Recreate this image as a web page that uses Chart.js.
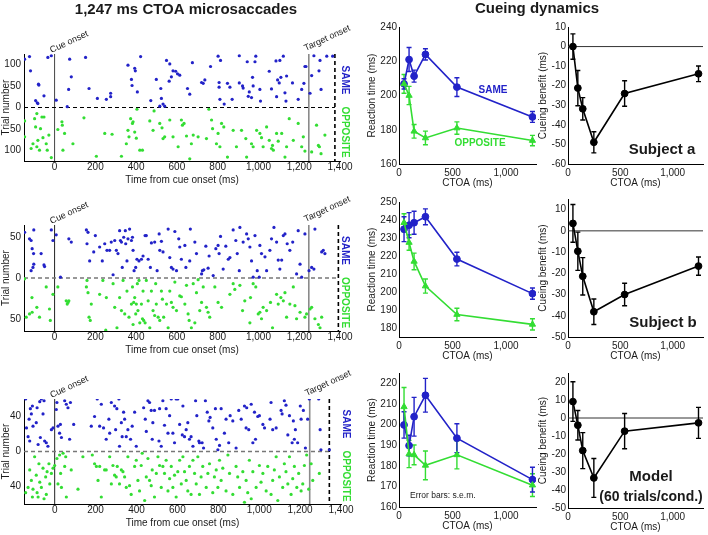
<!DOCTYPE html>
<html><head><meta charset="utf-8">
<script src="https://cdn.jsdelivr.net/npm/chart.js@4.4.1/dist/chart.umd.min.js"></script>
<style>
html,body{margin:0;padding:0;background:#fff;}
#wrap{position:relative;width:708px;height:535px;overflow:hidden;background:#fff;}
canvas{position:absolute;left:0;top:0;}
</style></head>
<body><div id="wrap">
<canvas id="r1" width="708" height="535"></canvas>
<canvas id="r2" width="708" height="535"></canvas>
<canvas id="r3" width="708" height="535"></canvas>
<canvas id="t1" width="708" height="535"></canvas>
<canvas id="t2" width="708" height="535"></canvas>
<canvas id="t3" width="708" height="535"></canvas>
<canvas id="b1" width="708" height="535"></canvas>
<canvas id="b2" width="708" height="535"></canvas>
<canvas id="b3" width="708" height="535"></canvas>
</div>
<script>
// ---------------- DATA ----------------
const ctoa = [47, 94, 141, 247, 541, 1247];

const rtSameA = [206.8, 221, 211.3, 224, 204.9, 187.5];
const errSameA = [3, 7, 3.5, 3.3, 5.5, 3.2];
const rtOppA = [206.8, 200, 179.1, 175.2, 181, 173.7];
const errOppA = [5.5, 5.3, 4, 4, 3.6, 3];
const benA = [0, -21.2, -31.8, -48.9, -24, -13.9];
const errBenA = [6.5, 9, 5.7, 5.4, 6.5, 4];

const rtSameB = [234.9, 237.1, 238.5, 241.8, 218.3, 199.1];
const errSameB = [6.9, 7, 6.4, 4.4, 3.8, 3.1];
const rtOppB = [238.5, 227.5, 217, 203.3, 187.5, 182];
const errOppB = [5, 4.3, 4.6, 3.9, 3.5, 3.1];
const benB = [3.5, -9.6, -21.4, -38.1, -30, -16.6];
const errBenB = [8.9, 9, 8.8, 6, 5.3, 4.3];

const rtSameM = [199.8, 189.8, 203.8, 214.2, 193.4, 173.3];
const errSameM = [6.4, 5, 9.4, 8.2, 7, 6];
const rtOppM = [208.6, 185.7, 185.3, 180.2, 185.3, 170.6];
const errOppM = [9.4, 6.6, 4.8, 7, 6.8, 5.5];
const benM = [9.1, -4, -18.1, -33.3, -7.3, -2.7];
const errBenM = [11, 8.2, 10, 10.8, 9.8, 8.6];

// raster: [time from cue onset (ms), trial number]
const sameA = [[-147,112],[-123,118],[-118,85],[-93,16],[-85,11],[-79,54],[-77,52],[-82,9],[-52,27],[-33,116],[-16,120],[8,17],[62,2],[69,42],[74,112],[82,71],[152,116],[169,44],[210,21],[254,19],[275,33],[275,25],[360,98],[377,65],[380,51],[393,91],[396,85],[406,36],[422,118],[472,16],[499,65],[521,44],[524,21],[516,3],[532,8],[540,3],[549,109],[565,101],[562,61],[573,71],[581,85],[594,84],[603,78],[614,75],[652,44],[663,31],[676,104],[721,58],[729,56],[737,64],[765,95],[802,119],[807,58],[807,47],[814,109],[811,19],[832,8],[848,56],[860,47],[871,19],[906,120],[906,57],[922,50],[925,45],[945,106],[950,26],[955,36],[966,23],[971,70],[974,50],[983,106],[987,119],[1007,42],[1010,15],[1053,84],[1064,43],[1086,108],[1089,25],[1094,64],[1102,57],[1105,109],[1110,70],[1122,119],[1130,34],[1135,15],[1138,73],[1167,57],[1195,19],[1212,42],[1223,56],[1228,95],[1233,95],[1253,33],[1261,74],[1272,120],[1297,85],[1302,109],[1307,42],[1335,119],[1364,119]];
const oppA = [[-147,31],[-147,68],[-115,95],[-106,84],[-98,26],[-93,45],[-87,91],[-87,14],[-82,76],[-74,99],[-69,49],[-62,22],[-57,70],[-52,22],[-41,84],[-36,99],[-28,64],[-16,116],[16,51],[36,33],[38,41],[49,60],[41,99],[90,84],[144,24],[205,113],[246,60],[282,62],[328,113],[352,84],[360,53],[365,68],[373,26],[382,37],[385,33],[393,57],[401,71],[404,4],[418,99],[431,99],[467,31],[483,53],[488,8],[516,37],[527,47],[532,72],[540,68],[565,29],[581,68],[606,91],[622,29],[627,41],[635,37],[647,66],[663,119],[671,84],[680,64],[704,68],[745,72],[757,4],[770,29],[775,49],[794,84],[802,60],[811,91],[819,37],[830,45],[848,115],[876,53],[892,91],[917,53],[938,72],[942,115],[966,84],[974,91],[991,53],[1007,60],[1015,70],[1023,91],[1040,45],[1053,76],[1064,95],[1069,88],[1073,99],[1089,60],[1097,78],[1114,60],[1130,115],[1138,91],[1151,26],[1171,76],[1195,37],[1212,91],[1220,68],[1228,101],[1261,103],[1285,41],[1294,88],[1299,91],[1307,107],[1326,64]];

const sameB = [[-147,56],[-123,48],[-115,46],[-110,36],[-115,9],[-106,13],[-102,17],[-103,30],[-102,59],[-66,30],[-52,16],[-49,14],[-16,59],[-8,46],[8,53],[29,1],[82,44],[70,48],[156,59],[159,42],[164,56],[172,21],[192,32],[200,52],[221,38],[234,21],[246,42],[257,34],[270,34],[278,44],[287,4],[295,46],[303,34],[311,30],[319,58],[323,46],[328,44],[332,13],[339,50],[347,58],[349,42],[355,21],[360,48],[368,60],[377,46],[382,50],[385,34],[390,9],[398,13],[404,23],[414,21],[426,23],[434,27],[444,52],[450,52],[459,23],[470,13],[475,43],[491,44],[503,9],[513,54],[516,34],[524,45],[532,32],[557,60],[565,25],[573,13],[581,11],[590,57],[598,9],[609,48],[614,38],[622,23],[639,40],[644,13],[663,21],[666,60],[688,44],[696,30],[721,5],[725,9],[732,10],[742,39],[753,12],[758,27],[778,3],[791,36],[802,40],[807,30],[814,51],[827,11],[840,39],[852,23],[860,25],[876,59],[889,46],[896,30],[906,9],[909,62],[925,44],[942,54],[950,48],[958,38],[966,21],[974,1],[983,52],[994,9],[1004,1],[1007,40],[1015,30],[1032,26],[1040,9],[1056,34],[1064,48],[1076,62],[1089,44],[1097,22],[1105,11],[1114,22],[1122,52],[1130,54],[1141,42],[1154,34],[1168,44],[1187,5],[1195,58],[1204,17],[1212,1],[1228,54],[1248,9],[1261,13],[1272,11],[1277,60],[1310,32],[1318,34],[1326,30]];
const oppB = [[-147,1],[-139,48],[-123,44],[-111,24],[-110,42],[-87,36],[-74,48],[-41,11],[-25,38],[-21,52],[-8,20],[16,11],[57,28],[62,32],[66,30],[70,28],[156,11],[159,3],[164,18],[169,48],[175,52],[180,32],[221,20],[237,3],[251,64],[254,24],[287,7],[295,36],[306,61],[319,24],[328,40],[336,3],[344,44],[355,16],[365,48],[377,32],[382,11],[385,57],[388,30],[393,24],[398,44],[401,32],[406,7],[409,40],[414,3],[418,55],[426,32],[431,50],[434,16],[437,52],[444,55],[450,3],[459,28],[467,61],[475,16],[483,40],[491,46],[496,7],[499,32],[508,48],[516,52],[524,16],[529,26],[535,48],[549,32],[557,61],[565,16],[573,30],[581,36],[590,5],[598,40],[614,22],[622,23],[639,32],[647,9],[655,44],[660,52],[671,61],[680,7],[688,55],[696,18],[704,2],[712,40],[721,30],[729,11],[745,36],[753,42],[761,48],[786,11],[802,30],[819,36],[860,20],[876,7],[884,14],[909,9],[922,40],[933,28],[958,55],[961,24],[974,7],[987,11],[999,44],[1007,42],[1015,50],[1023,36],[1040,40],[1059,30],[1069,61],[1089,20],[1097,32],[1110,24],[1122,28],[1130,18],[1138,48],[1154,32],[1171,11],[1179,34],[1187,50],[1204,42],[1228,48],[1236,44],[1253,38],[1261,36],[1277,50],[1294,57],[1302,61],[1310,48]];

const sameM = [[-142,60],[-138,27],[-130,17],[-125,37],[-122,12],[-119,49],[-114,43],[-109,52],[-106,29],[-90,33],[-86,50],[-81,8],[-73,57],[-70,16],[-65,60],[-57,43],[-52,58],[-49,12],[-41,10],[-33,6],[-16,25],[-8,27],[8,48],[11,56],[16,29],[24,21],[28,31],[33,16],[49,58],[57,54],[65,50],[77,56],[73,14],[93,31],[179,29],[195,40],[208,60],[220,29],[228,54],[239,27],[252,14],[265,37],[269,21],[277,56],[293,52],[298,25],[304,49],[314,60],[317,6],[326,33],[330,17],[337,45],[342,37],[350,17],[358,25],[371,14],[379,29],[391,45],[399,6],[435,50],[443,37],[448,23],[456,58],[464,56],[472,47],[477,14],[480,33],[488,47],[510,12],[513,49],[521,6],[529,58],[537,30],[545,49],[554,21],[562,41],[570,60],[578,21],[586,10],[594,60],[602,60],[611,31],[624,19],[627,52],[635,17],[643,25],[651,33],[659,14],[667,17],[676,6],[689,58],[695,41],[705,12],[708,10],[721,10],[728,4],[737,58],[746,45],[754,35],[760,39],[773,27],[786,49],[790,14],[798,2],[806,7],[814,49],[830,21],[838,37],[851,10],[858,41],[871,35],[887,4],[900,47],[912,37],[928,52],[936,27],[939,50],[949,25],[961,54],[969,10],[977,45],[982,14],[993,40],[1001,41],[1018,31],[1026,27],[1053,37],[1058,56],[1066,25],[1083,27],[1107,47],[1112,43],[1123,58],[1131,53],[1140,19],[1148,41],[1161,10],[1167,35],[1172,14],[1177,25],[1188,10],[1201,52],[1205,37],[1216,47],[1226,4],[1237,37],[1245,60],[1291,60],[1298,25],[1302,2],[1343,2]];
const oppM = [[-142,47],[-130,41],[-122,21],[-114,33],[-109,52],[-106,43],[-98,6],[-90,27],[-86,47],[-81,52],[-77,14],[-73,35],[-65,41],[-57,19],[-52,54],[-44,29],[-41,49],[-37,23],[-28,14],[-24,37],[-16,25],[-8,19],[0,16],[11,8],[16,37],[24,4],[29,25],[33,41],[41,2],[49,17],[54,6],[57,52],[81,21],[114,43],[138,6],[184,4],[195,14],[204,17],[212,33],[220,17],[228,52],[244,21],[252,21],[269,6],[277,37],[285,16],[293,27],[301,29],[306,17],[317,37],[326,21],[334,23],[342,29],[350,41],[358,6],[366,39],[374,49],[391,17],[399,10],[407,33],[415,45],[423,16],[428,2],[440,56],[448,29],[456,8],[464,33],[472,39],[477,21],[488,52],[497,25],[505,6],[513,16],[521,41],[529,17],[537,25],[545,10],[554,45],[562,31],[570,17],[578,41],[586,27],[594,52],[602,23],[611,10],[619,37],[627,6],[635,23],[643,33],[651,45],[659,17],[667,49],[676,10],[684,25],[692,37],[700,6],[708,49],[716,29],[724,17],[741,41],[749,25],[757,14],[773,47],[781,29],[790,21],[798,41],[806,10],[814,33],[822,19],[838,45],[847,4],[855,25],[871,49],[887,17],[895,29],[904,41],[920,23],[928,58],[936,33],[944,47],[952,10],[961,54],[969,23],[985,41],[1001,16],[1009,35],[1018,25],[1034,45],[1042,17],[1058,49],[1066,33],[1074,21],[1083,6],[1091,56],[1099,29],[1115,41],[1123,14],[1131,23],[1140,37],[1148,6],[1156,49],[1164,31],[1172,17],[1184,41],[1193,25],[1205,45],[1213,37],[1221,16],[1232,4],[1242,43],[1254,14],[1262,33],[1294,25]];

const cueOnset = 0;
const targetOnset = 1247;
const dashEnds = [1375, 1392, 1343];

const rasterXTicks = [0, 200, 400, 600, 800, 1000, 1200, 1400];
const rasterYTicks = [[-100, -50, 0, 50, 100], [-50, 0, 50], [-40, 0, 40]];
const ctoaTicks = [0, 500, 1000];
const rtTicks = [[160, 180, 200, 220, 240], [180, 190, 200, 210, 220, 230, 240, 250], [160, 170, 180, 190, 200, 210, 220]];
const benTicks = [[-60, -50, -40, -30, -20, -10, 0, 10], [-50, -40, -30, -20, -10, 0, 10], [-50, -40, -30, -20, -10, 0, 10, 20]];

// ---------------- STYLE ----------------
const PW = 708, PH = 535;
const FONT = "'Liberation Sans', Arial, Helvetica, sans-serif";
const TEXT = '#1a1a1a';
const BLUE = '#2222c8';
const GREEN = '#33dd33';
Chart.defaults.font.family = FONT;
Chart.defaults.color = TEXT;

function makeChart(id, g, datasets, plugins) {
  const yW = g.L - (g.yTitleX - 6);
  const xH = 25;
  return new Chart(document.getElementById(id), {
    type: 'scatter',
    data: { datasets },
    options: {
      responsive: false, animation: false, events: [],
      layout: { padding: { left: g.L - yW, top: g.T, right: PW - g.R, bottom: PH - g.B - xH } },
      plugins: { legend: { display: false }, tooltip: { enabled: false } },
      scales: {
        x: {
          type: 'linear', min: g.xMin, max: g.xMax,
          afterBuildTicks: s => { s.ticks = g.xTicks.map(v => ({ value: v })); },
          afterFit: s => { s.height = xH; s.paddingLeft = 0; s.paddingRight = 0; },
          grid: { display: false, drawTicks: false },
          border: { display: true, color: '#000', width: 1 },
          ticks: { padding: g.xPad, font: { size: 10 }, color: TEXT, maxRotation: 0, autoSkip: false,
                   callback: v => Number(v).toLocaleString('en-US') },
          title: { display: true, text: g.xTitle, padding: 0, font: { size: 10 }, color: TEXT }
        },
        y: {
          type: 'linear', min: g.yMin, max: g.yMax,
          afterBuildTicks: s => { s.ticks = g.yTicks.map(v => ({ value: v })); },
          afterFit: s => { s.width = yW; s.paddingTop = 0; s.paddingBottom = 0; },
          grid: { display: false, drawTicks: false },
          border: { display: true, color: '#000', width: 1 },
          ticks: { padding: g.yPad, font: { size: 10 }, color: TEXT, autoSkip: false, callback: g.yFmt || (v => String(v)) },
          title: { display: true, text: g.yTitle, padding: 0, font: { size: 10 }, color: TEXT }
        }
      }
    },
    plugins
  });
}

function drawText(ctx, it, x, y) {
  ctx.save();
  ctx.translate(x, y);
  if (it.rot) ctx.rotate(it.rot * Math.PI / 180);
  ctx.font = (it.bold ? 'bold ' : '') + it.size + 'px ' + FONT;
  ctx.fillStyle = it.color || TEXT;
  ctx.textAlign = it.align || 'center';
  ctx.textBaseline = it.base || 'middle';
  ctx.fillText(it.text, 0, 0);
  ctx.restore();
}

function textPlugin(items) {
  return { id: 'txt', afterDraw(chart) {
    items.forEach(it => {
      const p = typeof it.pos === 'function' ? it.pos(chart) : it.pos;
      drawText(chart.ctx, it, p[0], p[1]);
    });
  } };
}

function seg(ctx, x1, y1, x2, y2) { ctx.beginPath(); ctx.moveTo(x1, y1); ctx.lineTo(x2, y2); ctx.stroke(); }

// ---------------- RASTERS ----------------
const rasterGeo = [
  { T: 54, B: 161, R: 340, yMin: -124, yMax: 124, zeroColor: '#000', zeroW: 1, cueColor: '#444' },
  { T: 225, B: 331, R: 340, yMin: -65, yMax: 65, zeroColor: '#777', zeroW: 1.5, cueColor: '#222' },
  { T: 399, B: 504, R: 341, yMin: -60, yMax: 60, zeroColor: '#777', zeroW: 1.5, cueColor: '#222' }
];
const rasterData = [[sameA, oppA], [sameB, oppB], [sameM, oppM]];

rasterGeo.forEach((rg, i) => {
  const g = Object.assign({ L: 24, yTitleX: 6.5, xMin: -150, xMax: 1400, xTicks: rasterXTicks, yTicks: rasterYTicks[i],
    xPad: 0, yPad: 3, xTitle: 'Time from cue onset (ms)', yTitle: 'Trial number', yFmt: v => String(Math.abs(v)) }, rg);
  const [same, opp] = rasterData[i];
  const linesPlugin = { id: 'rlines', beforeDatasetsDraw(chart) {
    const { ctx, chartArea: a, scales: { x, y } } = chart;
    ctx.save();
    const y0 = y.getPixelForValue(0), xd = x.getPixelForValue(dashEnds[i]);
    const xc = x.getPixelForValue(cueOnset), xt = x.getPixelForValue(targetOnset);
    ctx.strokeStyle = rg.cueColor; ctx.lineWidth = 1; seg(ctx, xc, a.top, xc, a.bottom);
    ctx.strokeStyle = '#8a8a8a'; ctx.lineWidth = 1.6; seg(ctx, xt, a.top, xt, a.bottom);
    ctx.setLineDash([4, 3]);
    ctx.strokeStyle = rg.zeroColor; ctx.lineWidth = rg.zeroW; seg(ctx, a.left, y0, xd, y0);
    ctx.strokeStyle = '#000'; ctx.lineWidth = 1.6; seg(ctx, xd, a.top, xd, a.bottom);
    ctx.restore();
  } };
  const items = [
    { text: 'Cue onset', size: 9, rot: -25, align: 'left', base: 'alphabetic',
      pos: c => [c.scales.x.getPixelForValue(cueOnset) - 3, c.chartArea.top - 1] },
    { text: 'Target onset', size: 9, rot: -25, align: 'left', base: 'alphabetic',
      pos: c => [c.scales.x.getPixelForValue(targetOnset) - 3, c.chartArea.top - 3] },
    { text: 'SAME', size: 10, bold: true, color: BLUE, rot: 90, align: 'right',
      pos: c => [c.chartArea.right + 5, c.scales.y.getPixelForValue(0) - 13] },
    { text: 'OPPOSITE', size: 10, bold: true, color: GREEN, rot: 90, align: 'left',
      pos: c => [c.chartArea.right + 5, c.scales.y.getPixelForValue(0) - 1] }
  ];
  if (i === 0) items.push({ text: '1,247 ms CTOA microsaccades', size: 15, bold: true, pos: [186, 10] });
  makeChart('r' + (i + 1), g, [
    { data: same.map(([t, n]) => ({ x: t, y: n })), pointRadius: 1.6, pointBackgroundColor: BLUE, pointBorderWidth: 0, showLine: false },
    { data: opp.map(([t, n]) => ({ x: t, y: -n })), pointRadius: 1.6, pointBackgroundColor: GREEN, pointBorderWidth: 0, showLine: false }
  ], [linesPlugin, textPlugin(items)]);
});

// ---------------- REACTION TIME ----------------
function errPlugin(series) {
  return { id: 'err', beforeDatasetsDraw(chart) {
    const { ctx, scales: { x, y } } = chart;
    ctx.save(); ctx.lineWidth = 1.4;
    series.forEach(s => {
      ctx.strokeStyle = s.color;
      ctoa.forEach((c, k) => {
        const px = x.getPixelForValue(c);
        const lo = y.getPixelForValue(s.vals[k] - s.errs[k]);
        const hi = y.getPixelForValue(s.vals[k] + s.errs[k]);
        ctx.beginPath();
        ctx.moveTo(px, lo); ctx.lineTo(px, hi);
        ctx.moveTo(px - 2.5, lo); ctx.lineTo(px + 2.5, lo);
        ctx.moveTo(px - 2.5, hi); ctx.lineTo(px + 2.5, hi);
        ctx.stroke();
      });
    });
    ctx.restore();
  } };
}

const rtGeo = [
  { T: 27, B: 164, yMin: 160, yMax: 240 },
  { T: 202, B: 337, yMin: 175, yMax: 250 },
  { T: 373, B: 507, yMin: 160, yMax: 225 }
];
const rtData = [[rtSameA, errSameA, rtOppA, errOppA], [rtSameB, errSameB, rtOppB, errOppB], [rtSameM, errSameM, rtOppM, errOppM]];
rtGeo.forEach((rg, i) => {
  const g = Object.assign({ L: 399, R: 536, yTitleX: 372, xMin: 0, xMax: 1280, xTicks: ctoaTicks, yTicks: rtTicks[i],
    xPad: 3, yPad: 2, xTitle: 'CTOA (ms)', yTitle: 'Reaction time (ms)' }, rg);
  const [sv, se, ov, oe] = rtData[i];
  const items = [];
  if (i === 0) {
    items.push({ text: 'Cueing dynamics', size: 15, bold: true, pos: [537, 9] });
    items.push({ text: 'SAME', size: 10, bold: true, color: BLUE, pos: [493, 90] });
    items.push({ text: 'OPPOSITE', size: 10, bold: true, color: GREEN, pos: [480, 143] });
  }
  if (i === 2) items.push({ text: 'Error bars: s.e.m.', size: 8.5, pos: [410, 496], align: 'left' });
  makeChart('t' + (i + 1), g, [
    { data: ctoa.map((c, k) => ({ x: c, y: ov[k] })), showLine: true, borderColor: GREEN, borderWidth: 1.6,
      pointStyle: 'triangle', pointRadius: 3.6, pointBackgroundColor: GREEN, pointBorderColor: GREEN, pointBorderWidth: 1 },
    { data: ctoa.map((c, k) => ({ x: c, y: sv[k] })), showLine: true, borderColor: BLUE, borderWidth: 1.6,
      pointStyle: 'circle', pointRadius: 3.4, pointBackgroundColor: BLUE, pointBorderColor: BLUE, pointBorderWidth: 1 }
  ], [errPlugin([{ vals: ov, errs: oe, color: GREEN }, { vals: sv, errs: se, color: BLUE }]), textPlugin(items)]);
});

// ---------------- CUEING BENEFIT ----------------
const benGeo = [
  { T: 27, B: 164, yMin: -60, yMax: 10 },
  { T: 199, B: 337, yMin: -50, yMax: 15 },
  { T: 373, B: 508, yMin: -50, yMax: 25 }
];
const benData = [[benA, errBenA], [benB, errBenB], [benM, errBenM]];
const benLabels = [
  [{ text: 'Subject a', size: 15, bold: true, pos: [662, 150] }],
  [{ text: 'Subject b', size: 15, bold: true, pos: [663, 323] }],
  [{ text: 'Model', size: 15, bold: true, pos: [651, 477] }, { text: '(60 trials/cond.)', size: 14, bold: true, pos: [651, 497] }]
];
benGeo.forEach((rg, i) => {
  const g = Object.assign({ L: 568, R: 706, yTitleX: 543.5, xMin: 0, xMax: 1290, xTicks: ctoaTicks, yTicks: benTicks[i],
    xPad: 3, yPad: 2, xTitle: 'CTOA (ms)', yTitle: 'Cueing benefit (ms)' }, rg);
  const [bv, be] = benData[i];
  const zeroPlugin = { id: 'zero', beforeDatasetsDraw(chart) {
    const { ctx, chartArea: a, scales: { y } } = chart;
    ctx.save(); ctx.strokeStyle = '#333'; ctx.lineWidth = 1;
    const y0 = y.getPixelForValue(0); seg(ctx, a.left, y0, a.right, y0);
    ctx.restore();
  } };
  makeChart('b' + (i + 1), g, [
    { data: ctoa.map((c, k) => ({ x: c, y: bv[k] })), showLine: true, borderColor: '#000', borderWidth: 1.6,
      pointStyle: 'circle', pointRadius: 3.4, pointBackgroundColor: '#000', pointBorderColor: '#000', pointBorderWidth: 1 }
  ], [zeroPlugin, errPlugin([{ vals: bv, errs: be, color: '#000' }]), textPlugin(benLabels[i])]);
});
</script>
</body></html>
